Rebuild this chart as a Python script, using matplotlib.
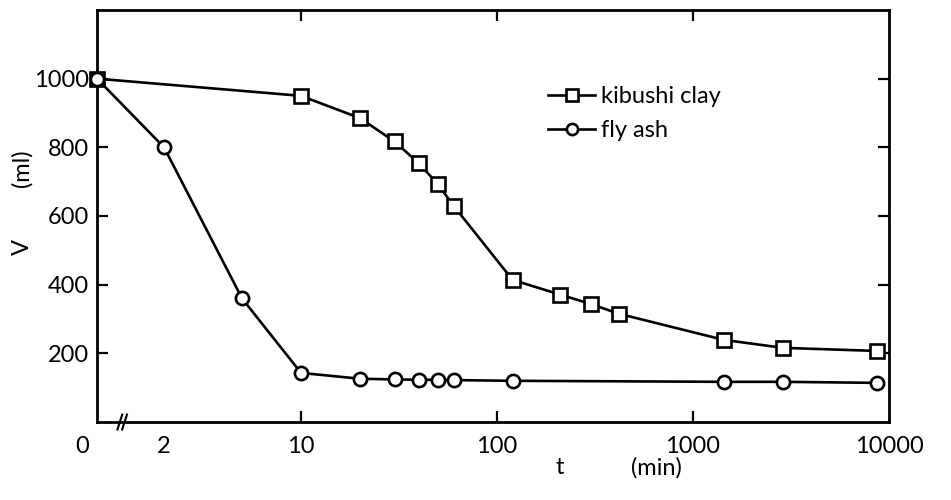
import numpy as np
import matplotlib
matplotlib.use("Agg")
import matplotlib.pyplot as plt

# ---- data ----
clay_t = [0, 10, 20, 30, 40, 50, 60, 120, 210, 300, 420, 1440, 2880, 8640]
clay_v = [1000, 950, 885, 817, 753, 692, 630, 414, 371, 344, 315, 239, 216, 207]

ash_t = [0, 2, 5, 10, 20, 30, 40, 50, 60, 120, 1440, 2880, 8640]
ash_v = [1000, 800, 360, 143, 126, 124, 123, 123, 122, 120, 117, 117, 114]

x_ticks = [2, 10, 100, 1000, 10000]
x_ticklabels = ["2", "10", "100", "1000", "10000"]
y_ticks = [200, 400, 600, 800, 1000]
y_ticklabels = ["200", "400", "600", "800", "1000"]

series_labels = ["kibushi clay", "fly ash"]

plt.rcParams['font.family'] = ['Lato', 'DejaVu Sans']
FS = 17

X0 = 0.91  # where t = 0 sits (left edge of the broken log axis)


def fwd(x):
    x = np.asarray(x, dtype=float)
    return np.log10(np.maximum(x, X0))


def inv(y):
    return 10.0 ** np.asarray(y, dtype=float)


W, H = 951, 500
fig = plt.figure(figsize=(W / 100, H / 100), dpi=100)
ax = fig.add_axes([97 / W, 1 - 422 / H, (889 - 97) / W, (422 - 10) / H])
ax.set_xscale('function', functions=(fwd, inv))
ax.set_xlim(X0, 10000)
ax.set_ylim(0, 1200)

lw = 1.9
ax.plot(clay_t, clay_v, '-', color='black', lw=lw, marker='s', ms=9.5,
        mfc='white', mec='black', mew=1.9, label=series_labels[0], clip_on=False, zorder=3)
ax.plot(ash_t, ash_v, '-', color='black', lw=lw, marker='o', ms=9.5,
        mfc='white', mec='black', mew=1.9, label=series_labels[1], clip_on=False, zorder=4)

for s in ax.spines.values():
    s.set_linewidth(2.0)

ax.set_xticks(x_ticks)
ax.set_xticklabels(x_ticklabels, fontsize=FS)
ax.xaxis.set_minor_locator(matplotlib.ticker.NullLocator())
ax.set_yticks(y_ticks)
ax.set_yticklabels(y_ticklabels, fontsize=FS)
ax.tick_params(axis='both', which='major', direction='in', length=8, width=1.6,
               top=True, right=True, labeltop=False, labelright=False)
ax.tick_params(axis='x', pad=10)
ax.tick_params(axis='y', pad=6)
# no tick mark at "2" and at 10000 (edge)
xt = ax.xaxis.get_major_ticks()
for i in (0, 4):
    xt[i].tick1line.set_visible(False)
    xt[i].tick2line.set_visible(False)

# "0" label at the start of the axis
ax.annotate("0", xy=(0, 0), xycoords=('data', 'axes fraction'),
            xytext=(-11, -10), textcoords='offset points',
            ha='center', va='top', fontsize=FS)

# axis break mark
bx = (123 - 97) / (889 - 97)
for dx in (-0.004, 0.002):
    ax.plot([bx + dx - 0.003, bx + dx + 0.003], [-0.018, 0.018],
            transform=ax.transAxes, color='black', lw=1.5, clip_on=False)

# axis labels
fig.text(22 / W, 1 - 247 / H, "V", rotation=90, ha='center', va='center', fontsize=FS)
fig.text(22 / W, 1 - 168 / H, "(ml)", rotation=90, ha='center', va='center', fontsize=FS)
fig.text(560 / W, 1 - 468 / H, "t", ha='center', va='center', fontsize=FS)
fig.text(656 / W, 1 - 468 / H, "(min)", ha='center', va='center', fontsize=FS)

leg = ax.legend(loc='upper left', bbox_to_anchor=((548 - 97) / 792, 1 - (86 - 10) / 412),
                frameon=False, fontsize=FS, handlelength=2.0, handletextpad=0.25,
                labelspacing=0.55, borderpad=0, borderaxespad=0, markerscale=0.85)

fig.savefig("out.png", dpi=100)
